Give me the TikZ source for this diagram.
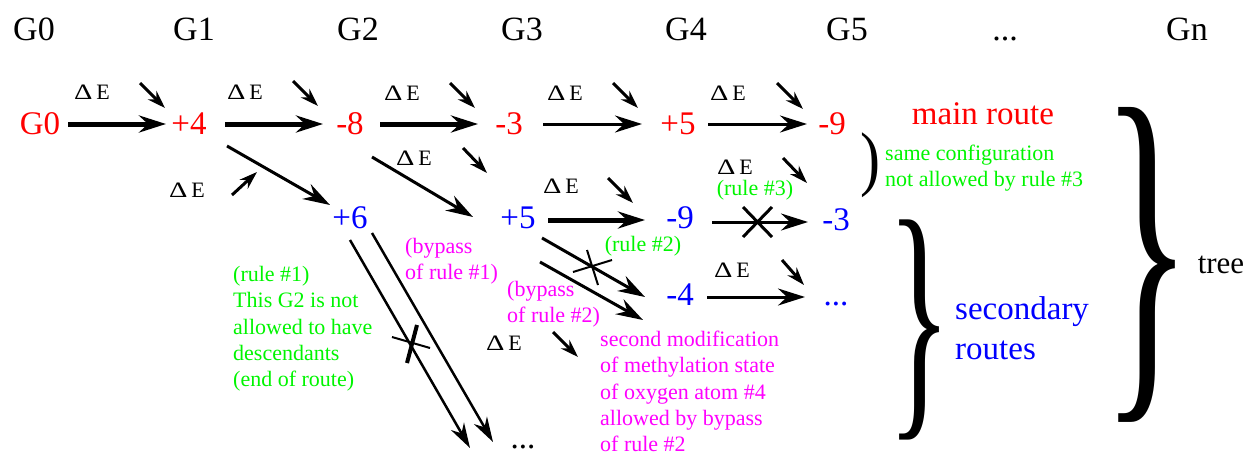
\documentclass[tikz,border=0pt]{standalone}
\usepackage{graphicx}
\usepackage{fontspec}
\setmainfont{Liberation Serif}
\newfontfamily\tms{Liberation Serif}
\usetikzlibrary{arrows.meta,calc}
\definecolor{rred}{RGB}{255,0,0}
\definecolor{bblue}{RGB}{0,0,255}
\definecolor{ggreen}{RGB}{0,245,0}
\definecolor{mmag}{RGB}{255,0,255}
\newcommand{\fsz}[2]{\tms\fontsize{#1}{#2}\selectfont}
\newcommand{\dE}{\scalebox{1.3}[1]{Δ}\hspace{4pt}E}
\begin{document}
\begin{tikzpicture}[x=1pt,y=-1pt,
  big/.style={font=\fsz{33}{40}, inner sep=0pt, anchor=base},
  hdr/.style={font=\fsz{34}{40}, inner sep=0pt, anchor=base},
  mainn/.style={big, text=rred},
  secn/.style={big, text=bblue},
  de/.style={font=\fsz{22}{26}, inner sep=0pt},
  note/.style={font=\fsz{22}{26.3}, inner sep=0pt, align=left, anchor=north west},
  rulelab/.style={font=\fsz{22}{26}, inner sep=0pt, text=ggreen},
  tip/.style={-{Stealth[length=27pt,width=17pt,inset=9pt]}},
  thickarr/.style={tip, line width=5pt},
  arr/.style={tip, line width=3pt},
  thinarr/.style={-{Stealth[length=25pt,width=15pt,inset=8pt]}, line width=2.5pt},
  dearr/.style={-{Stealth[length=18pt,width=12pt,inset=6pt]}, line width=3pt},
  crossmark/.style={line width=2.5pt}
]
\useasboundingbox (0,0) rectangle (1249,453);

% generation headers
\node[hdr] (h0) at (34,40) {G0};
\node[hdr] (h1) at (194,40) {G1};
\node[hdr] (h2) at (358,40) {G2};
\node[hdr] (h3) at (522,40) {G3};
\node[hdr] (h4) at (686,40) {G4};
\node[hdr] (h5) at (847,40) {G5};
\node[hdr] (hd) at (1005,40) {...};
\node[hdr] (hn) at (1187,40) {Gn};

% main route
\node[mainn] (r0) at (40,134) {G0};
\node[mainn] (r1) at (189,134) {+4};
\node[mainn] (r2) at (350,134) {-8};
\node[mainn] (r3) at (509,134) {-3};
\node[mainn] (r4) at (678,134) {+5};
\node[mainn] (r5) at (832,134) {-9};

% secondary nodes
\node[secn] (b1) at (350,228) {+6};
\node[secn] (b2) at (518,228) {+5};
\node[secn] (b3) at (680,228) {-9};
\node[secn] (b4) at (836,230) {-3};
\node[secn] (b5) at (680,305) {-4};
\node[secn] (b6) at (836,305) {...};
\node[big] (k) at (523,448) {...};

% main arrows
\draw[thickarr] ($(r0.base)+(28,-10)$) -- ($(r1.base)+(-23,-10)$);
\draw[thickarr] ($(r1.base)+(36,-10)$) -- ($(r2.base)+(-27,-10)$);
\draw[thickarr] ($(r2.base)+(30,-10)$) -- ($(r3.base)+(-31,-10)$);
\draw[arr] ($(r3.base)+(34,-10)$) -- ($(r4.base)+(-36,-10)$);
\draw[arr] ($(r4.base)+(30,-10)$) -- ($(r5.base)+(-25,-10)$);

% branches
\draw[arr] ($(r1.base)+(38,12)$) -- ($(b1.base)+(-20,-23)$);
\draw[arr] ($(r2.base)+(22,23)$) -- ($(b2.base)+(-45,-11)$);
\draw[thickarr] ($(b2.base)+(30,-8)$) -- ($(b3.base)+(-35,-8)$);
\draw[arr] ($(b3.base)+(32,-6)$) -- ($(b4.base)+(-28,-8)$);
\draw[arr] ($(b2.base)+(24,10)$) -- ($(b5.base)+(-35,-8)$);
\draw[arr] ($(b2.base)+(22,34)$) -- ($(b5.base)+(-37,15)$);
\draw[arr] ($(b5.base)+(27,-8)$) -- ($(b6.base)+(-31,-8)$);
\draw[thinarr] ($(b1.base)+(0,12)$) -- ($(k.base)+(-53,0)$);
\draw[thinarr] ($(b1.base)+(22,5)$) -- ($(k.base)+(-30,-6)$);

% crosses
\draw[crossmark, line width=3pt] (743,207) -- (772,237) (772,207) -- (743,237);
\draw[crossmark, line width=2pt] (573,272) -- (612,260) (587,250) -- (598,285);
\draw[crossmark, line width=2pt] (392,337) -- (430,348);
\draw[crossmark, line width=4pt] (417,325) -- (407,363);

% Delta E labels
\node[de] (de1) at (92,92) {\dE};
\node[de] (de2) at (245,92) {\dE};
\node[de] (de3) at (402,93) {\dE};
\node[de] (de4) at (565,93) {\dE};
\node[de] (de5) at (728,93) {\dE};
\node[de] (de6) at (187,190) {\dE};
\node[de] (de7) at (414,158) {\dE};
\node[de] (de8) at (561,186) {\dE};
\node[de] (de9) at (735,167) {\dE};
\node[de] (de10) at (732,270) {\dE};
\node[de] (de11) at (504,343) {\dE};

\draw[dearr] (140,83) -- (165,108);
\draw[dearr] (293,81) -- (318,106);
\draw[dearr] (450,83) -- (475,108);
\draw[dearr] (613,83) -- (638,108);
\draw[dearr] (777,83) -- (803,109);
\draw[dearr] (232,195) -- (257,172);
\draw[dearr] (463,148) -- (487,173);
\draw[dearr] (608,178) -- (633,203);
\draw[dearr] (783,158) -- (807,183);
\draw[dearr] (782,260) -- (804,285);
\draw[dearr] (553,332) -- (578,357);

% rule labels
\node[rulelab] (ru2) at (643,246) {(rule \#2)};
\node[rulelab] (ru3) at (755,190) {(rule \#3)};

% notes
\node[note, text=mmag] (bp1) at (405,238) {(bypass\\of rule \#1)};
\node[note, text=mmag] (bp2) at (507,281) {(bypass\\of rule \#2)};
\node[note, text=mmag] (smod) at (600,331) {second modification\\of methylation state\\of oxygen atom \#4\\allowed by bypass\\of rule \#2};
\node[note, text=ggreen] (rone) at (233,266) {(rule \#1)\\This G2 is not\\allowed to have\\descendants\\(end of route)};
\node[note, text=ggreen] (same) at (885,145) {same configuration\\not allowed by rule \#3};

% right side
\node[big, text=rred] (mainr) at (983,124) {main route};
\node[big, text=bblue, align=left, anchor=north west] (secr) at (955,296) {secondary\\routes};
\node[big, font=\fsz{31}{36}] (tree) at (1221,273) {tree};
\node[inner sep=0pt, font=\tms] (par) at (870,165) {\resizebox*{20pt}{65pt}{)}};
\node[inner sep=0pt, font=\tms] (br2) at (920,330) {\resizebox*{64pt}{220pt}{\}}};
\node[inner sep=0pt, font=\tms] (br1) at (1147,265) {\resizebox*{91pt}{314pt}{\}}};
\end{tikzpicture}
\end{document}
